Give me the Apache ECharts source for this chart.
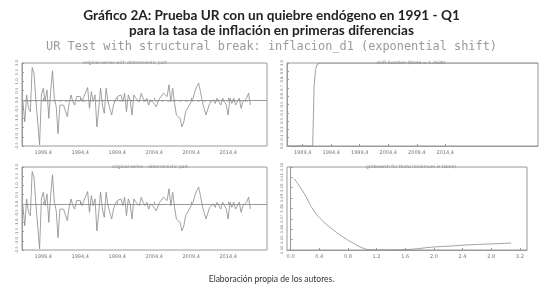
<!DOCTYPE html>
<html><head><meta charset="utf-8">
<script src="https://cdn.jsdelivr.net/npm/echarts@6/dist/echarts.min.js"></script>
<style>html,body{margin:0;padding:0;background:#fff}#c{width:543px;height:287px}</style>
</head><body><div id="c"></div>
<script>
// ---- data ----
const seriesStart = 1987.0; // first quarter 1987Q1
const inflacionD1 = [-0.09,-1.19,0.27,-0.46,-0.64,1.76,1.45,0.0,-0.09,-2.43,0.27,0.63,-0.09,0.54,-1.0,0.45,1.58,0.09,-0.37,-1.83,
 -0.28,-0.19,-0.28,-0.19,-0.91,-0.19,0.27,-0.09,-0.28,0.18,0.09,0.18,-0.09,0.18,0.12,0.67,-0.46,0.45,-0.09,0.27,
 -1.46,-0.46,0.63,-0.28,-0.73,0.63,-0.09,-0.19,-0.82,-0.28,0.0,0.18,0.09,0.27,-0.09,0.36,-0.64,0.27,0.0,-0.82,
 0.27,0.09,0.18,-0.09,0.36,0.09,-0.09,0.09,-0.28,0.0,0.09,-0.19,-0.37,-0.28,0.09,0.0,0.36,0.45,0.18,0.82,
 -0.09,0.63,-0.19,-0.82,-0.73,-1.0,-1.46,-1.19,-0.64,-0.46,-0.28,-0.09,0.09,0.45,0.72,0.91,0.45,-0.09,-0.46,-0.82,
 -0.91,-0.19,-0.09,0.0,-0.19,0.09,0.18,-0.28,0.09,-0.09,-0.28,-0.82,0.09,-0.19,0.09,-0.28,-0.28,0.09,-0.46,-0.09,
 -0.19,0.09,0.36,-0.28];
const deterministicLevel = -0.09;
const shiftTimes  = [1987.0, 1991.5, 1991.75, 1992.0, 1992.25, 1992.5, 1992.75, 2031.0];
const shiftValues = [0, 0, 0.72, 0.92, 0.98, 0.995, 1.0, 1.0];
const thetaGrid = [0.05,0.19,0.32,0.46,0.60,0.74,0.88,1.02,1.11,1.30,1.48,1.67,1.95,2.23,2.50,2.78,3.08];
const gridObj   = [4.5088,4.4944,4.4784,4.4672,4.4592,4.4522,4.4464,4.4416,4.4403,4.4401,4.4402,4.4406,4.4426,4.4438,4.4450,4.4458,4.4467];
const yearTicks = [1989.75,1994.75,1999.75,2004.75,2009.75,2014.75];
const thetaTicks = [0,0.4,0.8,1.2,1.6,2.0,2.4,2.8,3.2];

// ---- chart ----
const chart = echarts.init(document.getElementById('c'), null, {renderer:'canvas'});
const gray = '#8a8a8a', frame = '#9a9a9a', txt = '#777';
const tsData = inflacionD1.map((v,i)=>[seriesStart + i/4, v]);
const resid = inflacionD1.map((v,i)=>[seriesStart + i/4, v]);
const detLine = [[seriesStart, deterministicLevel],[seriesStart + (inflacionD1.length-1)/4, deterministicLevel]];
const shiftData = shiftTimes.map((t,i)=>[t, shiftValues[i]]);
const gsData = thetaGrid.map((t,i)=>[t, gridObj[i]]);

const grids = [
  {left:22, top:63, width:245, height:83},
  {left:287, top:63, width:251, height:83},
  {left:22, top:167, width:245, height:83},
  {left:287, top:167, width:240, height:83}
].map(g=>Object.assign(g,{show:true, borderColor:frame, borderWidth:1, backgroundColor:'#fff'}));

function xTime(gi, min, max){
  return {type:'value', gridIndex:gi, min:min, max:max,
    axisLine:{lineStyle:{color:frame}}, splitLine:{show:false},
    axisTick:{inside:true, length:2, lineStyle:{color:frame}, customValues:yearTicks},
    axisLabel:{customValues:yearTicks, formatter:v=>Math.floor(v)+',4', fontSize:5, color:txt, margin:4, fontFamily:'DejaVu Sans'}};
}
function yVal(gi, min, max, interval, dec){
  return {type:'value', gridIndex:gi, min:min, max:max, interval:interval,
    axisLine:{show:true, lineStyle:{color:frame}}, splitLine:{show:false},
    axisTick:{show:true, inside:true, length:2, lineStyle:{color:frame}},
    axisLabel:{fontSize:3.8, color:txt, rotate:90, margin:3, fontFamily:'DejaVu Sans', hideOverlap:false, formatter:v=>v.toFixed(dec)}};
}
const lineS = {type:'line', showSymbol:false, symbol:'none', animation:false, lineStyle:{color:gray, width:0.8}};
const smallT = {fontFamily:'DejaVu Sans', fontSize:4.5, color:'#888', fontWeight:'normal'};

chart.setOption({
  backgroundColor:'#fff',
  animation:false,
  title:[
    {text:'Gráfico 2A: Prueba UR con un quiebre endógeno en 1991 - Q1', left:'center', top:4,
     textStyle:{fontFamily:'Lato', fontWeight:'bold', fontSize:13.6, color:'#222'}},
    {text:'para la tasa de inflación en primeras diferencias', left:'center', top:19,
     textStyle:{fontFamily:'Lato', fontWeight:'bold', fontSize:13.6, color:'#222'}},
    {text:'UR Test with structural break: inflacion_d1 (exponential shift)', left:'center', top:36,
     textStyle:{fontFamily:'DejaVu Sans Mono', fontWeight:'normal', fontSize:11.9, color:'#9a9a9a'}},
    {text:'original series with deterministic part', left:120, top:55, textAlign:'center', textStyle:smallT},
    {text:'shift function (theta = 1.2600)', left:406, top:55, textAlign:'center', textStyle:smallT},
    {text:'original series - deterministic part', left:145, top:159, textAlign:'center', textStyle:smallT},
    {text:'gridsearch for theta (minimum is taken)', left:406, top:159, textAlign:'center', textStyle:smallT},
    {text:'Elaboración propia de los autores.', left:'center', top:270,
     textStyle:{fontFamily:'Lato', fontWeight:'normal', fontSize:8.5, color:'#333'}}
  ],
  grid:grids,
  xAxis:[
    xTime(0, 1986.875, 2020.0),
    xTime(1, 1987.0, 2031.0),
    xTime(2, 1986.875, 2020.0),
    {type:'value', gridIndex:3, min:-0.05, max:3.3,
     axisLine:{lineStyle:{color:frame}}, splitLine:{show:false},
     axisTick:{inside:true, length:2, lineStyle:{color:frame}, customValues:thetaTicks},
     axisLabel:{customValues:thetaTicks, formatter:v=>v.toFixed(1), fontSize:5, color:txt, margin:4, fontFamily:'DejaVu Sans'}}
  ],
  yAxis:[
    yVal(0, -2.5, 2.0, 0.5, 1),
    yVal(1, 0, 1, 0.1, 1),
    yVal(2, -2.5, 2.0, 0.5, 1),
    yVal(3, 4.44, 4.52, 0.01, 2)
  ],
  series:[
    Object.assign({}, lineS, {xAxisIndex:0, yAxisIndex:0, data:tsData}),
    Object.assign({}, lineS, {xAxisIndex:0, yAxisIndex:0, data:detLine, lineStyle:{color:'#b0b0b0', width:0.6, type:[3,3]}}),
    Object.assign({}, lineS, {xAxisIndex:1, yAxisIndex:1, data:shiftData}),
    Object.assign({}, lineS, {xAxisIndex:2, yAxisIndex:2, data:resid}),
    Object.assign({}, lineS, {xAxisIndex:3, yAxisIndex:3, data:gsData, smooth:true})
  ]
});
</script></body></html>
